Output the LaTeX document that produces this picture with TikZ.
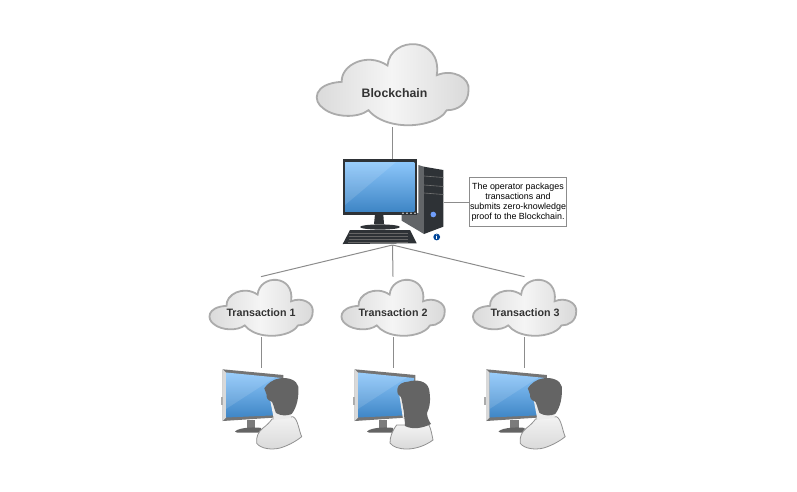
\documentclass[tikz,border=0pt]{standalone}
\usepackage{fontspec}
\setmainfont{Liberation Sans}
\usetikzlibrary{positioning}

\definecolor{linegray}{HTML}{8C8C8C}
\definecolor{cloudedge}{HTML}{ABABAB}
\definecolor{cloudside}{HTML}{D9D9D9}
\definecolor{screentop}{HTML}{8CC6FA}
\definecolor{screenbot}{HTML}{3F86C6}
\definecolor{casedark}{HTML}{2E3236}
\definecolor{hairgray}{HTML}{646464}

\tikzset{
    pics/cloudshape/.style={code={
        \coordinate (-top) at (0,-44);
        \coordinate (-bottom) at (0,43.5);
        \draw[draw=cloudedge,line width=1.8pt,left color=cloudside,right color=cloudside,middle color=white!96!black]
            (-69,25) .. controls (-80,18) and (-80,0) .. (-50.7,-1.7)
            .. controls (-52,-18) and (-26,-32) .. (-5,-18)
            .. controls (-2,-48) and (50,-48) .. (44.3,-8.3)
            .. controls (60,-15) and (78,-6) .. (76,7)
            .. controls (76,20) and (65,27) .. (54.3,26.7)
            .. controls (48,38) and (25,44) .. (5,41)
            .. controls (-8,39) and (-18,34) .. (-24,26.7)
            .. controls (-35,35) and (-58,34) .. (-69,25) -- cycle;
    }},
    pics/deskscreen/.style={code={
        \fill[hairgray!85] (-14.3,51) -- (-6,51) -- (-6,59) -- (-14.3,59) -- cycle;
        \fill[hairgray] (-26,62.5) .. controls (-22,58) and (-4,58) .. (0,59) -- (0,63.5) -- (-24,63.5) -- cycle;
        \fill[cloudedge] (-40.5,28) rectangle (-38,36);
        \fill[hairgray!90] (-38.3,0.3) -- (22.3,6) -- (22.3,48) -- (-38.3,52) -- cycle;
        \fill[white!85!black] (-38.3,0.3) -- (-35,3.5) -- (-35,48.5) -- (-38.3,52) -- cycle;
        \shade[top color=screentop,bottom color=screenbot] (-35,3.5) -- (21,9) -- (21,46) -- (-35,48.5) -- cycle;
        \fill[white,opacity=.12] (-35,3.5) -- (14,8.3) -- (-35,40) -- cycle;
    }},
    pics/manfigure/.style={code={
        \draw[cloudedge!85!black,line width=.8pt,top color=white!95!black,bottom color=cloudside]
            (-4.3,74.3) .. controls (-5,68) and (-3,63) .. (2,59)
            .. controls (6,56) and (9,53) .. (11,50) -- (32,47.7)
            .. controls (37,50) and (38,62) .. (40.7,67.7)
            .. controls (34,73) and (26,77) .. (19,79)
            .. controls (11,81) and (0,80) .. (-4.3,74.3) -- cycle;
        \fill[white!92!black] (9,30) -- (30,30) -- (30,49) -- (13,51) -- cycle;
        \fill[hairgray] (3.3,19.3) .. controls (6,15) and (12,10) .. (19,9.3)
            .. controls (27,8) and (36,11) .. (37.3,17.7)
            .. controls (38,28) and (36,38) .. (30.7,45)
            .. controls (26,47) and (20,47) .. (15,44)
            .. controls (13,40) and (12,32) .. (9.7,32)
            .. controls (7,32) and (5,28) .. (5.7,26) -- cycle;
    }},
    pics/womanfigure/.style={code={
        \draw[cloudedge!85!black,line width=.8pt,top color=white!95!black,bottom color=cloudside]
            (-3,74) .. controls (-3,68) and (-1,62) .. (3.7,56)
            -- (36,56)
            .. controls (38,60) and (39,66) .. (40,71)
            .. controls (32,77) and (22,80) .. (14,80)
            .. controls (6,80) and (0,78) .. (-3,74) -- cycle;
        \fill[white!92!black] (6,24) -- (14,24) -- (14,50) -- (10,50) -- cycle;
        \fill[hairgray] (4.3,20) .. controls (5,15) and (10,13) .. (15,12.7)
            .. controls (24,10) and (34,12) .. (36,20)
            .. controls (38,30) and (37,38) .. (34,44)
            .. controls (34,48) and (36,52) .. (38,55)
            .. controls (30,59) and (20,61) .. (12,57)
            .. controls (12,52) and (11,48) .. (11,44)
            .. controls (10,38) and (9,32) .. (8,28)
            .. controls (5,27) and (4,24) .. (4.3,20) -- cycle;
    }}
}

\begin{document}
\begin{tikzpicture}[
    x = 1pt,
    y = -1pt,
    link/.style = {draw=linegray, line width=1pt},
    cloudlabel/.style = {font=\fontsize{10.7}{13}\selectfont\bfseries, text=black!80, inner sep=0pt},
    notebox/.style = {draw=linegray, fill=white, line width=.7pt, align=center, inner sep=0pt,
        minimum width=96.5pt, minimum height=48.5pt, font=\fontsize{8.9}{10}\selectfont},
    ghost/.style = {inner sep=0pt, outer sep=0pt, minimum width=102pt, minimum height=86pt}
    ]
    \useasboundingbox (0,0) rectangle (797,491);

    % clouds
    \pic (blockchain) at (392.5,83.5) {cloudshape};
    \pic (txnone) [xscale=.68,yscale=.69] at (261,307) {cloudshape};
    \pic (txntwo) [xscale=.68,yscale=.69] at (393,307) {cloudshape};
    \pic (txnthree) [xscale=.68,yscale=.69] at (524.5,307) {cloudshape};
    \node[cloudlabel,font=\fontsize{12.3}{15}\selectfont\bfseries] (blockchainlabel) at (394.5,93) {Blockchain};
    \node[cloudlabel] (txnonelabel) at (261,313) {Transaction 1};
    \node[cloudlabel] (txntwolabel) at (393,313) {Transaction 2};
    \node[cloudlabel] (txnthreelabel) at (525,313) {Transaction 3};

    % tower
    \fill[casedark!75] (418.3,165) -- (424,166.7) -- (424,234) -- (401.7,220.7) -- (401.7,213) -- (418.3,213) -- cycle;
    \fill[casedark] (424,166.7) -- (443.3,170) -- (443.3,226.7) -- (424,234) -- cycle;
    \foreach \y in {176,185,193} {
        \draw[black!55,line width=.6pt] (424,\y) -- (443.3,\y+1.5);
    }
    \fill[screentop!80!blue] (433.3,214.5) circle (2.8);
    % stand, monitor
    \fill[casedark] (375,214) -- (383.3,214) -- (384,224) -- (374,224) -- cycle;
    \fill[casedark] (380,227) ellipse (20 and 2.6);
    \fill[casedark] (342.7,159) rectangle (416.7,215);
    \shade[top color=screentop,bottom color=screenbot] (345,162) rectangle (414.3,211);
    \fill[white,opacity=.12] (345,162) -- (396,162) -- (345,205) -- cycle;
    \foreach \x in {403,407,411,415} {
        \fill[white!85!black] (\x,213.2) circle (.9);
    }
    % keyboard
    \fill[casedark] (350,230) -- (410,230) -- (416.7,243.3) -- (342.7,244) -- cycle;
    \foreach \y in {233,236,239,242} {
        \draw[black!60,line width=.35pt] (349-\y/40+5.5,\y) -- (413-\y/80-2,\y);
    }
    % info mark
    \fill[blue!55!cyan!60!black] (436.7,237) circle (3.4);
    \draw[white,line width=.9pt] (436.7,236) -- (436.7,239.3);
    \fill[white] (436.7,234.8) circle (.5);

    \node[ghost] (server) at (392.5,202) {};
    \node[notebox] (note) at (518,202) {The operator packages\\transactions and\\submits zero-knowledge\\proof to the Blockchain.};

    % users
    \pic (screenone) at (261,369) {deskscreen};
    \pic (screentwo) at (393,369) {deskscreen};
    \pic (screenthree) at (524.5,369) {deskscreen};
    \pic at (261,369) {manfigure};
    \pic at (393,369) {womanfigure};
    \pic at (524.5,369) {manfigure};
    \coordinate (userone) at (261,368);
    \coordinate (usertwo) at (393,368);
    \coordinate (userthree) at (524.5,368);

    % connectors
    \draw[link] (blockchain-bottom) -- (server.north);
    \draw[link] (server.east) -- (note.west);
    \draw[link] (server.south) -- (txnone-top);
    \draw[link] (server.south) -- (txntwo-top);
    \draw[link] (server.south) -- (txnthree-top);
    \draw[link] (txnone-bottom) -- (userone);
    \draw[link] (txntwo-bottom) -- (usertwo);
    \draw[link] (txnthree-bottom) -- (userthree);
\end{tikzpicture}
\end{document}
